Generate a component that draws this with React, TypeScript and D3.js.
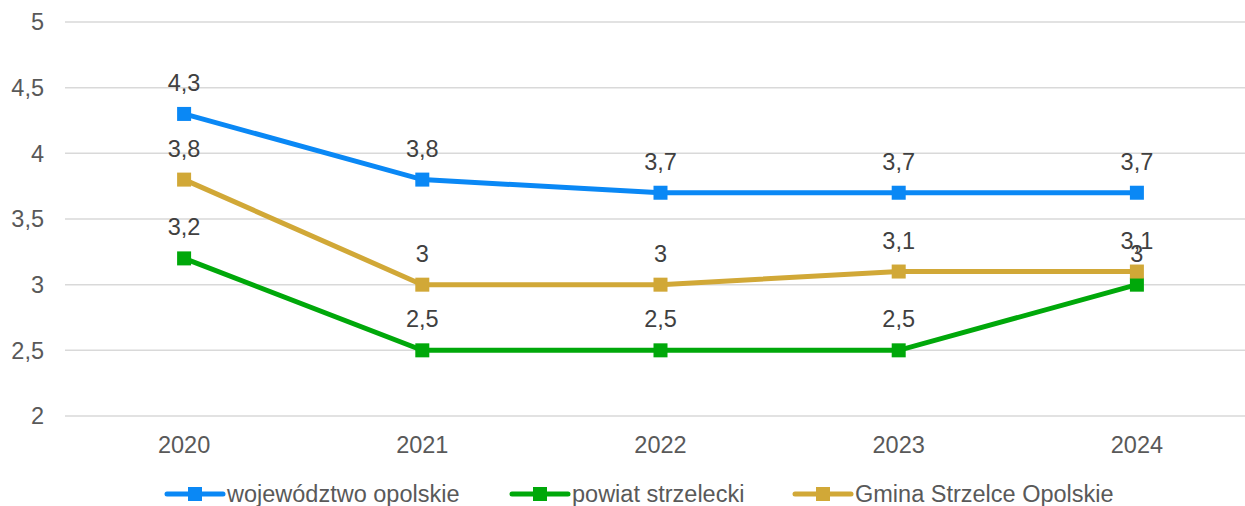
import React, { useEffect, useRef } from 'react';
import * as d3 from 'd3';

const years = ['2020', '2021', '2022', '2023', '2024'];
const wojewodztwo = [4.3, 3.8, 3.7, 3.7, 3.7];
const powiat = [3.2, 2.5, 2.5, 2.5, 3.0];
const gmina = [3.8, 3.0, 3.0, 3.1, 3.1];
const yTicks = [2, 2.5, 3, 3.5, 4, 4.5, 5];

const seriesList = [
  { name: 'województwo opolskie', values: wojewodztwo, color: '#0a88f5' },
  { name: 'powiat strzelecki', values: powiat, color: '#00a80a' },
  { name: 'Gmina Strzelce Opolskie', values: gmina, color: '#d1a837' },
];

const fmt = (v: number) => String(v).replace('.', ',');

const App = () => {
  const svgRef = useRef<SVGSVGElement>(null);

  useEffect(() => {
    const width = 1245;
    const height = 506;
    const margin = { top: 22, right: -11, bottom: 90, left: 65 };

    const svg = d3.select(svgRef.current);
    svg.selectAll('*').remove();

    const x = d3.scaleBand()
      .domain(years)
      .range([margin.left, width - margin.right]);

    const y = d3.scaleLinear()
      .domain([2, 5])
      .range([height - margin.bottom, margin.top]);

    const font = 'Liberation Sans, Arial, sans-serif';
    const fontSize = 23.5;
    const textColor = '#595959';

    // gridlines
    svg.append('g')
      .selectAll('line')
      .data(yTicks)
      .join('line')
      .attr('x1', margin.left)
      .attr('x2', width - margin.right)
      .attr('y1', d => y(d))
      .attr('y2', d => y(d))
      .attr('stroke', '#d9d9d9')
      .attr('stroke-width', 1.5);

    // y labels
    svg.append('g')
      .selectAll('text')
      .data(yTicks)
      .join('text')
      .attr('x', 44)
      .attr('y', d => y(d))
      .attr('dy', '0.35em')
      .attr('text-anchor', 'end')
      .attr('font-family', font)
      .attr('font-size', fontSize)
      .attr('fill', textColor)
      .text(d => fmt(d));

    // x labels
    svg.append('g')
      .selectAll('text')
      .data(years)
      .join('text')
      .attr('x', d => x(d)! + x.bandwidth() / 2)
      .attr('y', y(2) + 37)
      .attr('text-anchor', 'middle')
      .attr('font-family', font)
      .attr('font-size', fontSize)
      .attr('fill', textColor)
      .text(d => d);

    const cx = (i: number) => x(years[i])! + x.bandwidth() / 2;

    const line = d3.line<number>()
      .x((_, i) => cx(i))
      .y(d => y(d));

    seriesList.forEach(s => {
      const g = svg.append('g');
      g.append('path')
        .datum(s.values)
        .attr('fill', 'none')
        .attr('stroke', s.color)
        .attr('stroke-width', 5)
        .attr('d', line);
      g.selectAll('rect')
        .data(s.values)
        .join('rect')
        .attr('x', (_, i) => cx(i) - 7)
        .attr('y', d => y(d) - 7)
        .attr('width', 14)
        .attr('height', 14)
        .attr('fill', s.color);
    });

    // data labels
    [seriesList[0], seriesList[2], seriesList[1]].forEach(s => {
      svg.append('g')
        .selectAll('text')
        .data(s.values)
        .join('text')
        .attr('x', (_, i) => cx(i))
        .attr('y', d => y(d) - 23)
        .attr('text-anchor', 'middle')
        .attr('font-family', font)
        .attr('font-size', fontSize)
        .attr('fill', '#404040')
        .text(d => fmt(d));
    });

    // legend
    const legendX = [167, 512, 795];
    const legendY = 494;
    seriesList.forEach((s, i) => {
      const g = svg.append('g').attr('transform', `translate(${legendX[i]},${legendY})`);
      g.append('line')
        .attr('x1', 0)
        .attr('x2', 56)
        .attr('y1', 0)
        .attr('y2', 0)
        .attr('stroke', s.color)
        .attr('stroke-width', 5)
        .attr('stroke-linecap', 'round');
      g.append('rect')
        .attr('x', 21)
        .attr('y', -7)
        .attr('width', 14)
        .attr('height', 14)
        .attr('fill', s.color);
      g.append('text')
        .attr('x', 60)
        .attr('y', 0)
        .attr('dy', '0.35em')
        .attr('font-family', font)
        .attr('font-size', fontSize)
        .attr('fill', textColor)
        .text(s.name);
    });
  }, []);

  return (
    <svg
      ref={svgRef}
      width={1245}
      height={506}
      style={{ position: 'absolute', left: 0, top: 0, background: '#fff' }}
    ></svg>
  );
};

export default App;
